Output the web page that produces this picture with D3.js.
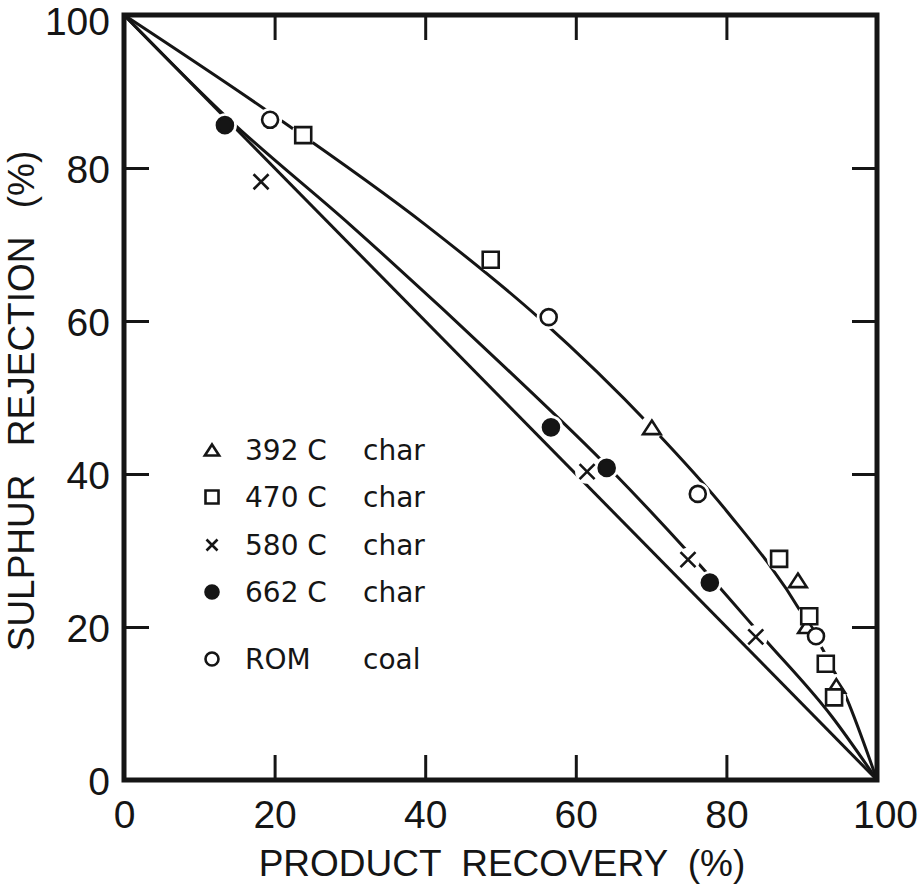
<!DOCTYPE html>
<html>
<head>
<meta charset="utf-8">
<script src="https://cdn.jsdelivr.net/npm/d3@7"></script>
<style>
  body { margin: 0; background: #fff; }
  svg { display: block; }
</style>
</head>
<body>
<script>
(function (d3) {
  'use strict';

  // measured points, [product recovery %, sulphur rejection %]
  const char392 = [[70.1, 46.1], [89.5, 26.1], [90.7, 20.1], [94.6, 12.3]];
  const char470 = [[23.8, 84.3], [48.7, 68.0], [87.0, 28.9], [91.0, 21.4], [93.2, 15.2], [94.3, 10.8]];
  const char580 = [[18.2, 78.2], [61.5, 40.3], [74.9, 28.8], [83.9, 18.7]];
  const char662 = [[13.4, 85.6], [56.7, 46.1], [64.1, 40.8], [77.8, 25.8]];
  const romCoal = [[19.4, 86.3], [56.4, 60.5], [76.2, 37.4], [91.9, 18.8]];

  // hand drawn trend curves
  const fitUpper = [[0, 100], [20, 86.8], [40, 72.6], [55, 60.5], [70, 46.2], [80, 35.2], [90, 21.8], [96, 10.6], [100, 0]];
  const fitMiddle = [[0, 100], [14, 86.3], [30, 72.6], [50, 54.5], [65, 40.2], [75, 29.7], [85, 18.5], [94, 8.3], [100, 0]];
  const fitDiagonal = [[0, 100], [100, 0]];

  const tickValues = [0, 20, 40, 60, 80, 100];
  const legendLabels = [
    ['triangle', '392 C', 'char'],
    ['square', '470 C', 'char'],
    ['times', '580 C', 'char'],
    ['dot', '662 C', 'char'],
    ['circle', 'ROM', 'coal'],
  ];

  const series = [
    { type: 'triangle', data: char392 },
    { type: 'square', data: char470 },
    { type: 'times', data: char580 },
    { type: 'dot', data: char662 },
    { type: 'circle', data: romCoal },
  ];

  const width = 922;
  const height = 886;
  const ink = '#151515';
  const font = '"Liberation Sans", Arial, sans-serif';
  const legendFont = '"DejaVu Sans", sans-serif';

  const x = d3.scaleLinear().domain([0, 100]).range([124, 877]);
  const y = d3.scaleLinear().domain([0, 100]).range([780, 15]);

  const svg = d3.select('body')
    .append('svg')
    .attr('width', width)
    .attr('height', height);

  // marker shapes, s = half size
  const shape = (type, s) => {
    if (type === 'square') return `M${-s},${-s}H${s}V${s}H${-s}Z`;
    if (type === 'triangle') {
      const h = s * 0.85;
      return `M0,${-h}L${s * 1.1},${h}H${-s * 1.1}Z`;
    }
    if (type === 'times') return `M${-s},${-s}L${s},${s}M${s},${-s}L${-s},${s}`;
    const r = s;
    return `M${r},0A${r},${r} 0 1,1 ${-r},0A${r},${r} 0 1,1 ${r},0Z`;
  };

  const drawMarker = (g, type, s) => {
    g.append('path')
      .attr('d', shape(type, s))
      .attr('fill', type === 'dot' ? ink : (type === 'times' ? 'none' : '#fff'))
      .attr('stroke', ink)
      .attr('stroke-width', 2.6)
      .attr('stroke-linejoin', 'miter');
  };

  // curves
  const line = d3.line()
    .x((d) => x(d[0]))
    .y((d) => y(d[1]))
    .curve(d3.curveMonotoneX);

  svg.selectAll('.fit')
    .data([fitUpper, fitMiddle, fitDiagonal])
    .join('path')
    .attr('class', 'fit')
    .attr('d', line)
    .attr('fill', 'none')
    .attr('stroke', ink)
    .attr('stroke-width', 3);

  const all = series.flatMap((s) => s.data.map((d) => ({ type: s.type, x: d[0], y: d[1] })));

  // white gaps in the curves around each point
  svg.selectAll('.gap')
    .data(all)
    .join('circle')
    .attr('class', 'gap')
    .attr('cx', (d) => x(d.x))
    .attr('cy', (d) => y(d.y))
    .attr('r', 12)
    .attr('fill', '#fff');

  svg.selectAll('.mark')
    .data(all)
    .join('g')
    .attr('class', 'mark')
    .attr('transform', (d) => `translate(${x(d.x)},${y(d.y)})`)
    .each(function (d) {
      drawMarker(d3.select(this), d.type, d.type === 'times' ? 7.5 : 8);
    });

  // axes, ticks pointing inward
  const axisFont = (g) => g
    .attr('font-family', font)
    .attr('font-size', 39)
    .call((g) => g.select('.domain').remove())
    .call((g) => g.selectAll('line').attr('stroke', ink).attr('stroke-width', 3))
    .call((g) => g.selectAll('text').attr('fill', ink));

  svg.append('g')
    .attr('transform', `translate(0,${y(0)})`)
    .call(d3.axisBottom(x).tickValues(tickValues).tickSize(-25).tickPadding(20).tickFormat(d3.format('d')))
    .call(axisFont)
    .call((g) => g.selectAll('text').filter((d) => d === 100).attr('dx', 8));

  svg.append('g')
    .attr('transform', `translate(${x(0)},0)`)
    .call(d3.axisLeft(y).tickValues(tickValues).tickSize(-25).tickPadding(14).tickFormat(d3.format('d')))
    .call(axisFont)
    .call((g) => g.selectAll('text').attr('dy', (d) => (d === 100 ? '0.5em' : '0.37em')));

  svg.append('g')
    .attr('transform', `translate(0,${y(100)})`)
    .call(d3.axisTop(x).tickValues(tickValues).tickSize(-25).tickFormat(''))
    .call(axisFont);

  svg.append('g')
    .attr('transform', `translate(${x(100)},0)`)
    .call(d3.axisRight(y).tickValues(tickValues).tickSize(-25).tickFormat(''))
    .call(axisFont);

  svg.append('rect')
    .attr('x', x(0))
    .attr('y', y(100))
    .attr('width', x(100) - x(0))
    .attr('height', y(0) - y(100))
    .attr('fill', 'none')
    .attr('stroke', ink)
    .attr('stroke-width', 5);

  // axis titles
  svg.append('text')
    .attr('x', 502)
    .attr('y', 876)
    .attr('text-anchor', 'middle')
    .attr('font-family', font)
    .attr('font-size', 37)
    .attr('word-spacing', 10)
    .attr('fill', ink)
    .text('PRODUCT RECOVERY (%)');

  svg.append('text')
    .attr('transform', 'translate(34,401) rotate(-90)')
    .attr('text-anchor', 'middle')
    .attr('font-family', font)
    .attr('font-size', 37)
    .attr('word-spacing', 18)
    .attr('fill', ink)
    .text('SULPHUR REJECTION (%)');

  // legend
  const legendY = [450, 497, 545, 592, 659];
  const legend = svg.selectAll('.legend')
    .data(legendLabels)
    .join('g')
    .attr('class', 'legend')
    .attr('transform', (d, i) => `translate(212,${legendY[i]})`);

  legend.each(function (d) {
    drawMarker(d3.select(this), d[0], d[0] === 'times' ? 5.5 : 6.5);
  });

  legend.append('text')
    .attr('x', 33)
    .attr('y', 10)
    .attr('font-family', legendFont)
    .attr('font-size', 28)
    .attr('fill', ink)
    .text((d) => d[1]);

  legend.append('text')
    .attr('x', 151)
    .attr('y', 10)
    .attr('font-family', legendFont)
    .attr('font-size', 28)
    .attr('fill', ink)
    .text((d) => d[2]);

}(d3));
</script>
</body>
</html>
